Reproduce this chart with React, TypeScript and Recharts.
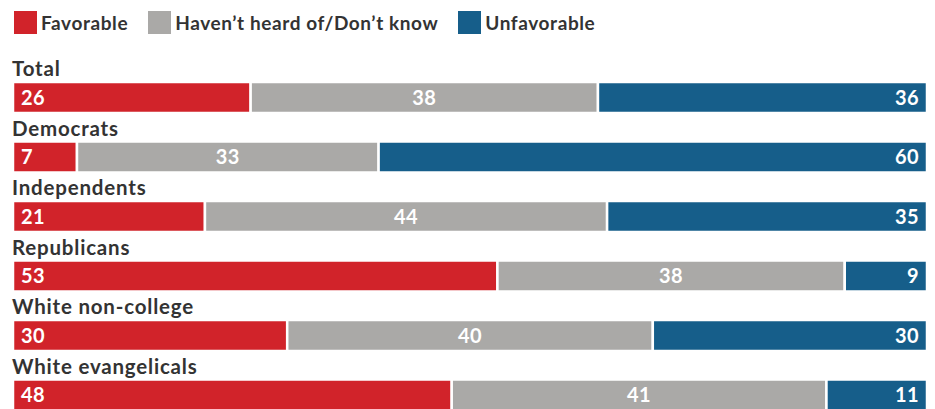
import { BarChart, Bar, XAxis, YAxis, LabelList } from 'recharts';

const groups = ['Total', 'Democrats', 'Independents', 'Republicans', 'White non-college', 'White evangelicals'];
const favorable = [26, 7, 21, 53, 30, 48];
const dontKnow = [38, 33, 44, 38, 40, 41];
const unfavorable = [36, 60, 35, 9, 30, 11];

const RED = '#d1232a';
const GRAY = '#aaa9a7';
const BLUE = '#165e8a';
const FONT = 'Lato, "Open Sans", sans-serif';

const data = groups.map((name, i) => ({
  name,
  favorable: favorable[i],
  dontKnow: dontKnow[i],
  unfavorable: unfavorable[i],
}));

const legendItems = [
  { label: 'Favorable', color: RED },
  { label: 'Haven\u2019t heard of/Don\u2019t know', color: GRAY },
  { label: 'Unfavorable', color: BLUE },
];

// group name drawn just above the left end of each bar
const GroupName = (props: any) => {
  const { x, y, value } = props;
  return (
    <text x={x - 1} y={y - 6} fill="#333" fontFamily={FONT} fontWeight={700} fontSize={20.5} letterSpacing={0.8} textAnchor="start">
      {value}
    </text>
  );
};

const valueLabel = { fill: '#fff', fontFamily: FONT, fontWeight: 700, fontSize: 20, letterSpacing: 0.4 };

export default function App() {
  return (
    <div style={{ position: 'relative', width: 927, height: 401, overflow: 'hidden' }}>
      <div style={{ position: 'absolute', left: 6, top: 3, display: 'flex', alignItems: 'center', fontFamily: FONT, fontWeight: 700, fontSize: 19, letterSpacing: 0.6, color: '#333' }}>
        {legendItems.map((it) => (
          <div key={it.label} style={{ display: 'flex', alignItems: 'center', marginRight: 20 }}>
            <span style={{ display: 'inline-block', width: 23, height: 23, background: it.color, marginRight: 4 }} />
            <span>{it.label}</span>
          </div>
        ))}
      </div>
      <BarChart
        width={927}
        height={417}
        data={data}
        layout="vertical"
        margin={{ top: 60, right: 8, bottom: 0, left: 5 }}
        barSize={31}
      >
        <XAxis type="number" domain={[0, 100]} hide />
        <YAxis type="category" dataKey="name" hide />
        <Bar dataKey="favorable" stackId="a" fill={RED} stroke="#fff" strokeWidth={2.5} isAnimationActive={false}>
          <LabelList dataKey="name" content={<GroupName />} />
          <LabelList dataKey="favorable" position="insideLeft" offset={8} {...valueLabel} />
        </Bar>
        <Bar dataKey="dontKnow" stackId="a" fill={GRAY} stroke="#fff" strokeWidth={2.5} isAnimationActive={false}>
          <LabelList dataKey="dontKnow" position="center" {...valueLabel} />
        </Bar>
        <Bar dataKey="unfavorable" stackId="a" fill={BLUE} stroke="#fff" strokeWidth={2.5} isAnimationActive={false}>
          <LabelList dataKey="unfavorable" position="insideRight" offset={8} {...valueLabel} />
        </Bar>
      </BarChart>
    </div>
  );
}
